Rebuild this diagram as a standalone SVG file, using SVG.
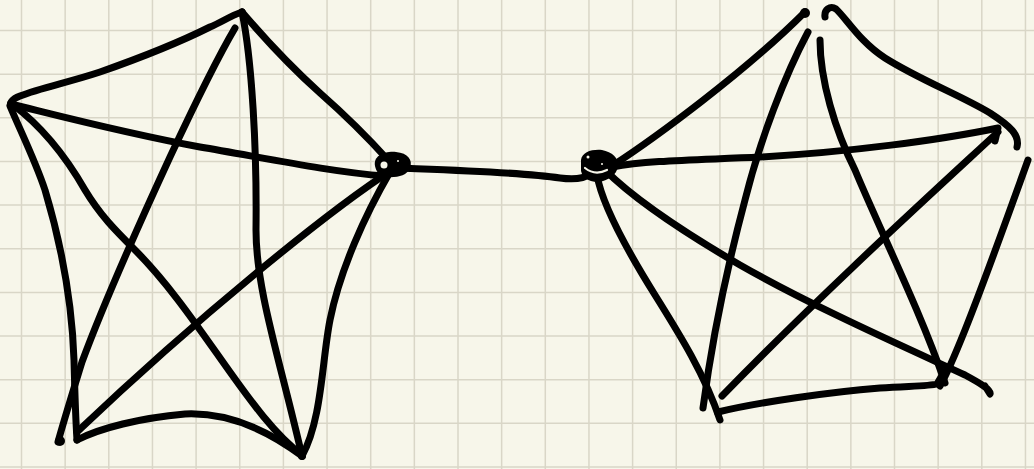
<svg xmlns="http://www.w3.org/2000/svg" width="1034" height="469" viewBox="0 0 1034 469">
<style>
.grid{fill:none;stroke:#d9d6c7;stroke-width:1.5}
.e{fill:none;stroke:#000;stroke-width:7;stroke-linecap:round;stroke-linejoin:round}
.dot{fill:#000}
.hole{fill:#f7f6ea}
</style>
<rect width="1034" height="469" fill="#f7f6ea"/>
<path class="grid" d="M21.5 0V469M65.15 0V469M108.8 0V469M152.45 0V469M196.1 0V469M239.75 0V469M283.4 0V469M327.05 0V469M370.7 0V469M414.35 0V469M458 0V469M501.65 0V469M545.3 0V469M588.95 0V469M632.6 0V469M676.25 0V469M719.9 0V469M763.55 0V469M807.2 0V469M850.85 0V469M894.5 0V469M938.15 0V469M981.8 0V469M1025.45 0V469M0 30.5H1034M0 74.15H1034M0 117.8H1034M0 161.45H1034M0 205.1H1034M0 248.75H1034M0 292.4H1034M0 336.05H1034M0 379.7H1034M0 423.35H1034M0 467H1034"/>
<g id="connectors">
  <!-- left K5 -->
  <path class="e" d="M242 12C230 16 222 22 210 27C180 42 140 58 100 72C70 82 40 88 20 96C12 99 9 103 11 107"/>
  <path class="e" d="M11 104C60 116 120 132 200 147C260 157 330 172 385 176"/>
  <path class="e" d="M235 28C215 62 192 110 170 157C140 222 105 300 82 362C74 388 64 420 58 442"/>
  <path class="e" d="M242 12C252 60 257 150 256 230C256 290 280 360 302 456"/>
  <path class="e" d="M242 12C270 45 300 75 320 93C345 115 370 140 388 160"/>
  <path class="e" d="M10 106C20 130 35 160 45 190C60 240 72 300 74 360C75 400 76 425 77 440"/>
  <path class="e" d="M12 104C40 125 65 155 85 190C100 215 115 230 135 250C170 285 200 330 230 372C250 400 275 435 302 455"/>
  <path class="e" d="M77 440C100 428 140 418 185 414C230 412 270 432 302 456"/>
  <path class="e" d="M392 170C330 210 200 315 77 432"/>
  <path class="e" d="M390 172C365 215 340 270 330 320C322 360 322 420 302 456"/>
  <!-- bridge -->
  <path class="e" d="M398 168C450 170 520 172 560 178C575 180 585 178 590 174"/>
  <!-- right K5 -->
  <path class="e" d="M612 166C655 138 745 72 805 12"/>
  <path class="e" d="M825 17C824 10 830 5 836 9C846 18 860 42 885 58C920 80 960 95 990 113C1010 126 1020 135 1017 147"/>
  <path class="e" d="M612 167C650 160 700 160 760 157C850 152 940 140 998 128L995 141"/>
  <path class="e" d="M597 175C602 205 630 255 655 295C680 335 705 375 720 420"/>
  <path class="e" d="M808 32C785 75 760 140 745 200C725 275 712 340 703 408"/>
  <path class="e" d="M820 40C820 80 835 130 855 170C880 230 920 310 945 383"/>
  <path class="e" d="M998 132C930 195 820 295 722 396"/>
  <path class="e" d="M605 170C630 195 680 230 740 265C810 305 900 345 965 375C978 382 992 390 990 394L985 386"/>
  <path class="e" d="M1028 160C1010 210 985 280 965 330C955 355 948 372 940 386"/>
  <path class="e" d="M718 412C760 402 830 392 880 388C910 386 930 386 937 384L944 372"/>
</g>
<g id="node-left-top"><circle class="dot" cx="242" cy="13" r="4"/></g>
<g id="node-left-left"><circle class="dot" cx="11" cy="104" r="4"/></g>
<g id="node-left-bottom-left"><circle class="dot" cx="60" cy="441" r="5"/></g>
<g id="node-left-bottom-right"><circle class="dot" cx="302" cy="456" r="4"/></g>
<g id="node-left-bridge">
  <path class="dot" d="M375 166C373 156 384 151 396 152C408 153 413 160 410 168C407 176 396 178 386 177C379 176 376 171 375 166Z"/>
  <circle class="hole" cx="384" cy="165" r="3.5"/>
  <circle class="hole" cx="398" cy="161" r="1"/>
</g>
<g id="node-right-bridge">
  <path class="dot" d="M581 160C582 152 592 149 602 150C612 152 619 158 618 166C617 175 608 181 598 182C588 182 580 176 581 168Z"/>
  <path d="M585 168Q595 176 607 170" fill="none" stroke="#f7f6ea" stroke-width="2.2" stroke-linecap="round"/>
  <circle class="hole" cx="588" cy="157" r="1.5"/>
  <circle class="hole" cx="602" cy="164" r="1"/>
</g>
<g id="node-right-top"><circle class="dot" cx="805" cy="13" r="5"/></g>
<g id="node-right-right"><circle class="dot" cx="997" cy="130" r="4"/></g>
<g id="node-right-bottom-left"><circle class="dot" cx="718" cy="412" r="4"/></g>
<g id="node-right-bottom-right"><circle class="dot" cx="942" cy="382" r="4"/></g>
</svg>
